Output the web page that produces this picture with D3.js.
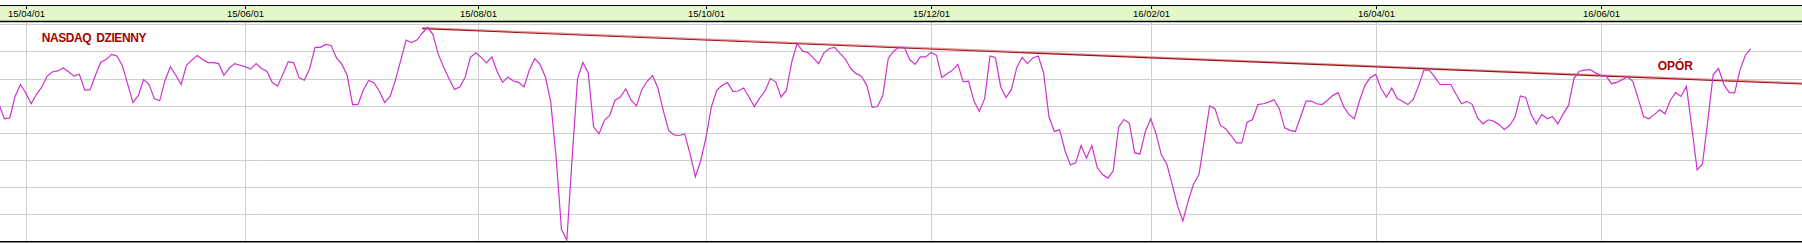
<!DOCTYPE html>
<html>
<head>
<meta charset="utf-8">
<script src="https://cdn.jsdelivr.net/npm/d3@7"></script>
<style>
  body { margin: 0; background: #fff; }
</style>
</head>
<body>
<div id="chart"></div>
<script>

var cfg = {
  w: 1802,
  h: 243,
  bandTop: 5.5,
  bandBot: 21.5,
  plotBot: 241.5
}

// dzienne zamkniecia (punkty, odczyt z wykresu), od 2015-03-25
var closes = [
  4205, 4152, 4154, 4234, 4278, 4247, 4207, 4242, 4269, 4309, 4325, 4328, 4339, 4325, 4309, 4316, 4257, 4259, 4312, 4360, 4370, 4389, 4383, 4349, 4281, 4212, 4237, 4296, 4279, 4226, 4218, 4294, 4343, 4312, 4278, 4349, 4368, 4385, 4370, 4359, 4359, 4355, 4312,
  4339, 4355, 4349, 4343, 4335, 4355, 4337, 4327, 4286, 4272, 4316, 4362, 4359, 4304, 4294, 4337, 4415, 4415, 4426, 4422, 4376, 4353, 4312, 4204, 4204, 4257, 4293, 4285, 4253, 4212, 4234, 4294, 4368, 4442, 4433, 4442, 4467, 4489, 4463, 4390, 4343, 4300,
  4260, 4269, 4304, 4378, 4395, 4378, 4358, 4380, 4325, 4286, 4306, 4291, 4286, 4269, 4331, 4374, 4352, 4306, 4213, 4010, 3744, 3705, 4010, 4300, 4359, 4321, 4121, 4096, 4146, 4164, 4220, 4232, 4262, 4220, 4199, 4259, 4290, 4311, 4265, 4183, 4109, 4092,
  4090, 4096, 4022, 3938, 3998, 4084, 4197, 4257, 4275, 4285, 4253, 4254, 4265, 4232, 4197, 4228, 4254, 4300, 4288, 4232, 4257, 4362, 4430, 4401, 4396, 4376, 4355, 4395, 4411, 4415, 4393, 4372, 4337, 4318, 4309, 4275, 4194, 4197, 4238, 4374, 4401, 4415,
  4414, 4370, 4352, 4380, 4380, 4396, 4386, 4304, 4318, 4331, 4352, 4288, 4290, 4217, 4179, 4226, 4383, 4378, 4269, 4230, 4260, 4341, 4378, 4355, 4376, 4383, 4321, 4160, 4105, 4111, 4034, 3981, 3989, 4053, 4006, 4053, 3973, 3946, 3933, 3960, 4121, 4149,
  4136, 4026, 4022, 4105, 4152, 4096, 4018, 3985, 3911, 3831, 3775, 3849, 3911, 3946, 4072, 4199, 4189, 4127, 4115, 4090, 4063, 4063, 4139, 4149, 4204, 4207, 4213, 4222, 4189, 4118, 4109, 4105, 4160, 4217, 4217, 4207, 4204, 4220, 4238, 4248, 4197, 4167,
  4152, 4220, 4275, 4304, 4315, 4263, 4232, 4265, 4226, 4216, 4204, 4223, 4273, 4331, 4331, 4306, 4278, 4278, 4278, 4242, 4207, 4216, 4205, 4156, 4133, 4148, 4143, 4131, 4112, 4127, 4158, 4236, 4230, 4168, 4133, 4168, 4152, 4160, 4133, 4170, 4201, 4300,
  4327, 4331, 4333, 4321, 4312, 4310, 4281, 4286, 4296, 4306, 4290, 4226, 4160, 4152, 4167, 4185, 4170, 4220, 4248, 4234, 4272, 4121, 3963, 3985, 4146, 4315, 4337, 4278, 4248, 4247, 4331, 4386, 4409
];

// etykiety osi czasu i ich pozycja (numer sesji)
var tickLabels = ["15/04/01", "15/06/01", "15/08/01", "15/10/01", "15/12/01", "16/02/01", "16/04/01", "16/06/01"];
var tickIdx = [5.1, 46, 89.5, 132, 174, 215.1, 257.1, 299.1];

// linia oporu: [sesja, wartosc]
var oporLine = [[79, 4485], [336.6, 4281]];

var svg = d3.select("#chart").append("svg")
  .attr("width", cfg.w)
  .attr("height", cfg.h);

var x = d3.scaleLinear()
  .domain([0, closes.length - 1])
  .range([-1, 1750.7]);

var y = d3.scaleLinear()
  .domain([3700, 4500])
  .range([241.3, 24.3]);

svg.append("rect")
  .attr("width", cfg.w)
  .attr("height", cfg.h)
  .style("fill", "#fff");

// pasek z datami
svg.append("rect")
  .attr("x", 0)
  .attr("y", cfg.bandTop)
  .attr("width", cfg.w)
  .attr("height", cfg.bandBot - cfg.bandTop)
  .style("fill", "#e4f7c9");

// siatka pozioma
svg.append("g").selectAll("line")
  .data(y.ticks(8).filter(function(d) { return d > 3700; }))
  .enter().append("line")
  .attr("x1", 0)
  .attr("x2", cfg.w)
  .attr("y1", function(d) { return Math.round(y(d)) + 0.5; })
  .attr("y2", function(d) { return Math.round(y(d)) + 0.5; })
  .style("stroke", "#cfcfcf")
  .style("stroke-width", "1px");

// siatka pionowa
svg.append("g").selectAll("line")
  .data(tickIdx)
  .enter().append("line")
  .attr("x1", function(d) { return Math.round(x(d)) + 0.5; })
  .attr("x2", function(d) { return Math.round(x(d)) + 0.5; })
  .attr("y1", cfg.bandBot)
  .attr("y2", cfg.plotBot)
  .style("stroke", "#cfcfcf")
  .style("stroke-width", "1px");

// ramki paska
svg.append("line")
  .attr("x1", 0).attr("x2", cfg.w)
  .attr("y1", cfg.bandTop).attr("y2", cfg.bandTop)
  .style("stroke", "#000")
  .style("stroke-width", "1px");

svg.append("line")
  .attr("x1", 0).attr("x2", cfg.w)
  .attr("y1", cfg.bandBot).attr("y2", cfg.bandBot)
  .style("stroke", "#000")
  .style("stroke-width", "1.3px");

svg.append("line")
  .attr("x1", 0).attr("x2", cfg.w)
  .attr("y1", cfg.plotBot + 0.3).attr("y2", cfg.plotBot + 0.3)
  .style("stroke", "#000")
  .style("stroke-width", "1.5px");

// znaczniki i etykiety dat
var ticks = svg.append("g").selectAll("g")
  .data(tickIdx)
  .enter().append("g")
  .attr("transform", function(d) { return "translate(" + (Math.round(x(d)) + 0.5) + ",0)"; });

ticks.append("line")
  .attr("y1", cfg.bandTop)
  .attr("y2", cfg.bandTop + 3.5)
  .style("stroke", "#000")
  .style("stroke-width", "1px");

ticks.append("text")
  .attr("y", 17.3)
  .attr("text-anchor", "middle")
  .style("font-family", "'Liberation Sans', Arial, sans-serif")
  .style("font-size", "9.5px")
  .style("fill", "#000")
  .text(function(d, i) { return tickLabels[i]; });

// linia oporu
var trend = d3.line()
  .x(function(d) { return x(d[0]); })
  .y(function(d) { return y(d[1]); });

svg.append("path")
  .datum(oporLine)
  .attr("d", trend)
  .attr("transform", "translate(0,-0.6)")
  .style("fill", "none")
  .style("stroke", "#e79a9a")
  .style("stroke-width", "1.6px");

svg.append("path")
  .datum(oporLine)
  .attr("d", trend)
  .attr("transform", "translate(0,0.3)")
  .style("fill", "none")
  .style("stroke", "#9c1414")
  .style("stroke-width", "1.1px");

// kurs
var line = d3.line()
  .x(function(d, i) { return x(i); })
  .y(function(d) { return y(d); });

svg.append("path")
  .datum(closes)
  .attr("d", line)
  .style("fill", "none")
  .style("stroke", "#cc33cc")
  .style("stroke-width", "1.2px");

// napisy
svg.append("text")
  .attr("x", 41.7)
  .attr("y", 41.7)
  .style("font-family", "'Liberation Sans', Arial, sans-serif")
  .style("font-size", "12px")
  .style("font-weight", "bold")
  .style("letter-spacing", "-0.4px")
  .style("word-spacing", "2px")
  .style("fill", "#a80000")
  .text("NASDAQ DZIENNY");

svg.append("text")
  .attr("x", 1657.7)
  .attr("y", 70)
  .style("font-family", "'Liberation Sans', Arial, sans-serif")
  .style("font-size", "12px")
  .style("font-weight", "bold")
  .style("fill", "#a80000")
  .text("OPÓR");

</script>
</body>
</html>
